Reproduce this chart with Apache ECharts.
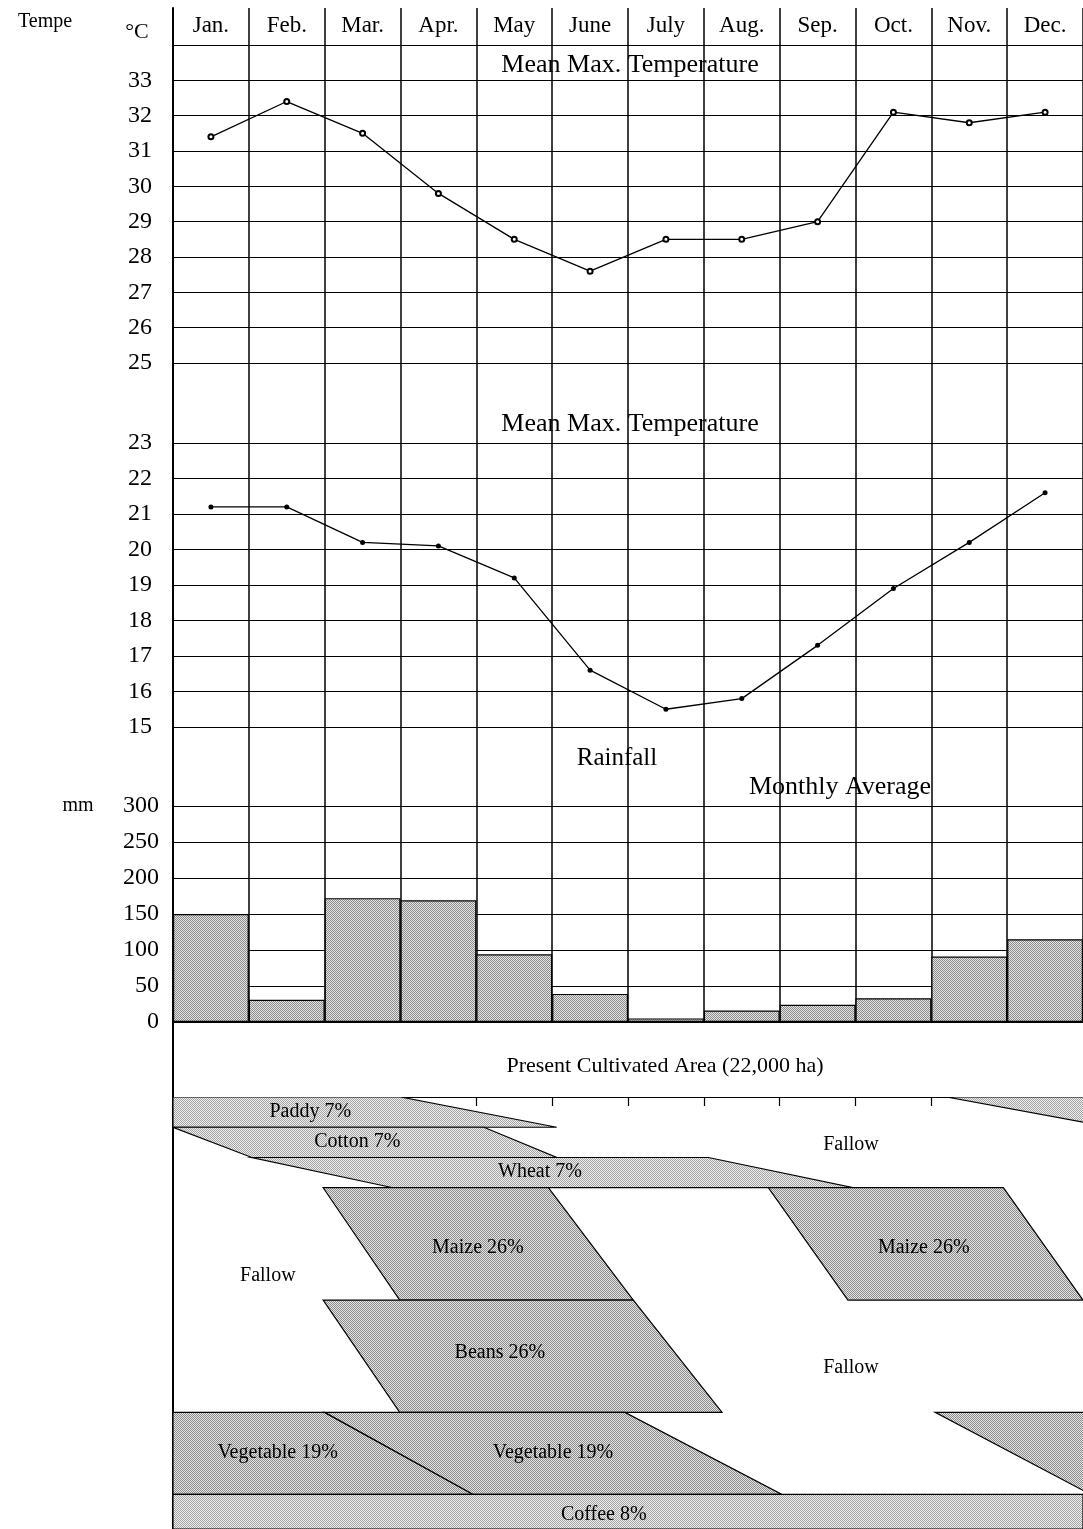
<!DOCTYPE html>
<html lang="en">
<head>
<meta charset="UTF-8">
<title>Climate and cropping calendar</title>
<script src="https://cdn.jsdelivr.net/npm/echarts@6/dist/echarts.min.js"></script>
<style>
  html, body { margin: 0; padding: 0; background: #fff; }
  #chart { width: 1083px; height: 1529px; }
</style>
</head>
<body>
<div id="chart"></div>
<script>
// month headers
const months = ['Jan.', 'Feb.', 'Mar.', 'Apr.', 'May', 'June', 'July', 'Aug.', 'Sep.', 'Oct.', 'Nov.', 'Dec.'];

// temperatures (deg C)
const tempUpper = [31.4, 32.4, 31.5, 29.8, 28.5, 27.6, 28.5, 28.5, 29.0, 32.1, 31.8, 32.1];
const tempLower = [21.2, 21.2, 20.2, 20.1, 19.2, 16.6, 15.5, 15.8, 17.3, 18.9, 20.2, 21.6];

// monthly average rainfall (mm)
const rainfall = [150, 31, 172, 169, 94, 39, 5, 16, 24, 33, 91, 115];

// cropping calendar: x = month (0 = start of Jan), y = cumulative share of area (%)
const paddyShapes = [
  [[0, 0], [3.0, 0], [5.06, 7], [0, 7]],
  [[10.2, 0], [12.5, 0], [12.5, 7], [12.36, 7]]
];
const cottonShapes = [[[0, 7], [4.1, 7], [5.06, 14], [1.04, 14]]];
const wheatShapes = [[[1.04, 14], [7.06, 14], [8.97, 21], [2.9, 21]]];
const maizeShapes = [
  [[1.98, 21], [4.95, 21], [6.07, 47], [2.99, 47]],
  [[7.85, 21], [10.95, 21], [12.0, 47], [8.9, 47]]
];
const beansShapes = [[[1.98, 47], [6.07, 47], [7.24, 73], [2.99, 73]]];
const vegetableShapes = [
  [[0, 73], [2.0, 73], [3.96, 92], [0, 92]],
  [[2.0, 73], [5.96, 73], [8.03, 92], [3.96, 92]],
  [[10.05, 73], [12.5, 73], [12.5, 92], [12.1, 92]]
];
const coffeeShapes = [[[0, 92], [12, 92], [12, 100], [0, 100]]];

// crop labels: text, month, share
const cropLabels = [
  ['Paddy 7%', 1.81, 3.3],
  ['Cotton 7%', 2.43, 10.3],
  ['Wheat 7%', 4.84, 17.4],
  ['Fallow', 8.94, 11.1],
  ['Maize 26%', 4.02, 35],
  ['Maize 26%', 9.9, 35],
  ['Fallow', 1.25, 41.4],
  ['Beans 26%', 4.31, 59.3],
  ['Fallow', 8.94, 62.7],
  ['Vegetable 19%', 1.38, 82.4],
  ['Vegetable 19%', 5.01, 82.4],
  ['Coffee 8%', 5.68, 96.8]
];

const FONT = 'Liberation Serif';

// stippled gray fill like the scanned print
function stipple(dark, light) {
  const c = document.createElement('canvas');
  c.width = 2; c.height = 2;
  const g = c.getContext('2d');
  g.fillStyle = light; g.fillRect(0, 0, 2, 2);
  g.fillStyle = dark; g.fillRect(0, 0, 1, 1); g.fillRect(1, 1, 1, 1);
  return { image: c, repeat: 'repeat' };
}
const dotsDark = stipple('#8c8c8c', '#e4e4e4');
const dotsLight = stipple('#a4a4a4', '#eeeeee');

const allShapes = [];
paddyShapes.forEach(p => allShapes.push({ points: p, fill: dotsLight }));
cottonShapes.forEach(p => allShapes.push({ points: p, fill: dotsLight }));
wheatShapes.forEach(p => allShapes.push({ points: p, fill: dotsLight }));
maizeShapes.forEach(p => allShapes.push({ points: p, fill: dotsDark }));
beansShapes.forEach(p => allShapes.push({ points: p, fill: dotsDark }));
vegetableShapes.forEach(p => allShapes.push({ points: p, fill: dotsDark }));
coffeeShapes.forEach(p => allShapes.push({ points: p, fill: dotsLight }));

const chart = echarts.init(document.getElementById('chart'), null, { renderer: 'canvas' });

const blackLine = { color: '#000', width: 1 };
const tickText = { color: '#000', fontFamily: FONT, fontSize: 24 };

function hiddenCat() {
  return { type: 'category', data: months, show: false };
}

function label(text, x, y, size) {
  return {
    type: 'text', x: x, y: y, z: 100,
    style: { text: text, fill: '#000', font: size + 'px "' + FONT + '"', align: 'center', verticalAlign: 'middle' }
  };
}

const option = {
  animation: false,
  backgroundColor: '#fff',
  grid: [
    { left: 173, right: 0, top: 8, height: 1014 },   // 0 frame + month header
    { left: 173, right: 0, top: 8, bottom: 0 },      // 1 left border
    { left: 173, right: 0, top: 45, height: 318 },   // 2 upper temperature
    { left: 173, right: 0, top: 443, height: 284 },  // 3 lower temperature
    { left: 173, right: 0, top: 806, height: 216 },  // 4 rainfall
    { left: 173, right: 0, top: 1097, height: 432 }  // 5 cropping calendar
  ],
  xAxis: [
    {
      gridIndex: 0, type: 'category', data: months, position: 'top',
      axisLine: { lineStyle: { color: '#000', width: 1.5 } },
      axisTick: { show: false },
      axisLabel: { inside: true, margin: 6, color: '#000', fontFamily: FONT, fontSize: 23 },
      splitLine: { show: true, lineStyle: { color: '#000', width: 1.5 } }
    },
    Object.assign(hiddenCat(), { gridIndex: 1 }),
    Object.assign(hiddenCat(), { gridIndex: 2 }),
    Object.assign(hiddenCat(), { gridIndex: 3 }),
    {
      gridIndex: 4, type: 'category', data: months,
      axisLine: { lineStyle: { color: '#000', width: 1.5 } },
      axisTick: { show: false }, axisLabel: { show: false }
    },
    {
      gridIndex: 5, type: 'value', min: 0, max: 12, interval: 1, position: 'top',
      axisLine: { lineStyle: { color: '#000', width: 1.2 } },
      axisTick: { inside: true, length: 9, lineStyle: { color: '#000', width: 1.2 } },
      axisLabel: { show: false }, splitLine: { show: false }
    }
  ],
  yAxis: [
    { gridIndex: 0, type: 'value', show: false },
    {
      gridIndex: 1, type: 'value',
      axisLine: { show: true, lineStyle: { color: '#000', width: 2 } },
      axisTick: { show: false }, axisLabel: { show: false }, splitLine: { show: false }
    },
    {
      gridIndex: 2, type: 'value', min: 25, max: 34, interval: 1,
      axisLine: { show: false }, axisTick: { show: false },
      axisLabel: Object.assign({ margin: 21, showMaxLabel: false }, tickText),
      splitLine: { lineStyle: blackLine }
    },
    {
      gridIndex: 3, type: 'value', min: 15, max: 23, interval: 1,
      axisLine: { show: false }, axisTick: { show: false },
      axisLabel: Object.assign({ margin: 21 }, tickText),
      splitLine: { lineStyle: blackLine }
    },
    {
      gridIndex: 4, type: 'value', min: 0, max: 300, interval: 50,
      axisLine: { show: false }, axisTick: { show: false },
      axisLabel: Object.assign({ margin: 14 }, tickText),
      splitLine: { lineStyle: blackLine }
    },
    { gridIndex: 5, type: 'value', min: 0, max: 100, inverse: true, show: false }
  ],
  series: [
    {
      name: 'Upper temperature', type: 'line', xAxisIndex: 2, yAxisIndex: 2,
      data: tempUpper, symbol: 'emptyCircle', symbolSize: 5,
      lineStyle: { color: '#000', width: 1.3 },
      itemStyle: { color: '#000', borderWidth: 1 }
    },
    {
      name: 'Lower temperature', type: 'line', xAxisIndex: 3, yAxisIndex: 3,
      data: tempLower, symbol: 'circle', symbolSize: 5,
      lineStyle: { color: '#000', width: 1.3 },
      itemStyle: { color: '#000' }
    },
    {
      name: 'Rainfall', type: 'bar', xAxisIndex: 4, yAxisIndex: 4,
      data: rainfall, barCategoryGap: '0%',
      itemStyle: { color: dotsDark, borderColor: '#000', borderWidth: 1.2 }
    },
    {
      name: 'Crops', type: 'custom', xAxisIndex: 5, yAxisIndex: 5, clip: true,
      data: allShapes.map(s => s.points[0]),
      renderItem: function (params, api) {
        const s = allShapes[params.dataIndex];
        return {
          type: 'polygon',
          shape: { points: s.points.map(p => api.coord(p)) },
          style: { fill: s.fill, stroke: '#000', lineWidth: 1.2 }
        };
      }
    },
    {
      name: 'Crop labels', type: 'custom', xAxisIndex: 5, yAxisIndex: 5, z: 10,
      data: cropLabels.map(d => [d[1], d[2]]),
      renderItem: function (params, api) {
        const pt = api.coord([api.value(0), api.value(1)]);
        return {
          type: 'text', x: pt[0], y: pt[1],
          style: {
            text: cropLabels[params.dataIndex][0], fill: '#000',
            font: '20px "' + FONT + '"', align: 'center', verticalAlign: 'middle'
          }
        };
      }
    }
  ],
  graphic: [
    label('Tempe', 45, 22, 20),
    label('°C', 137, 32, 22),
    label('mm', 78, 806, 20),
    label('Mean Max. Temperature', 630, 65, 26),
    label('Mean Max. Temperature', 630, 424, 26),
    label('Rainfall', 617, 758, 25),
    label('Monthly Average', 840, 787, 26),
    label('Present Cultivated Area (22,000 ha)', 665, 1066, 22)
  ]
};

chart.setOption(option);
</script>
</body>
</html>
